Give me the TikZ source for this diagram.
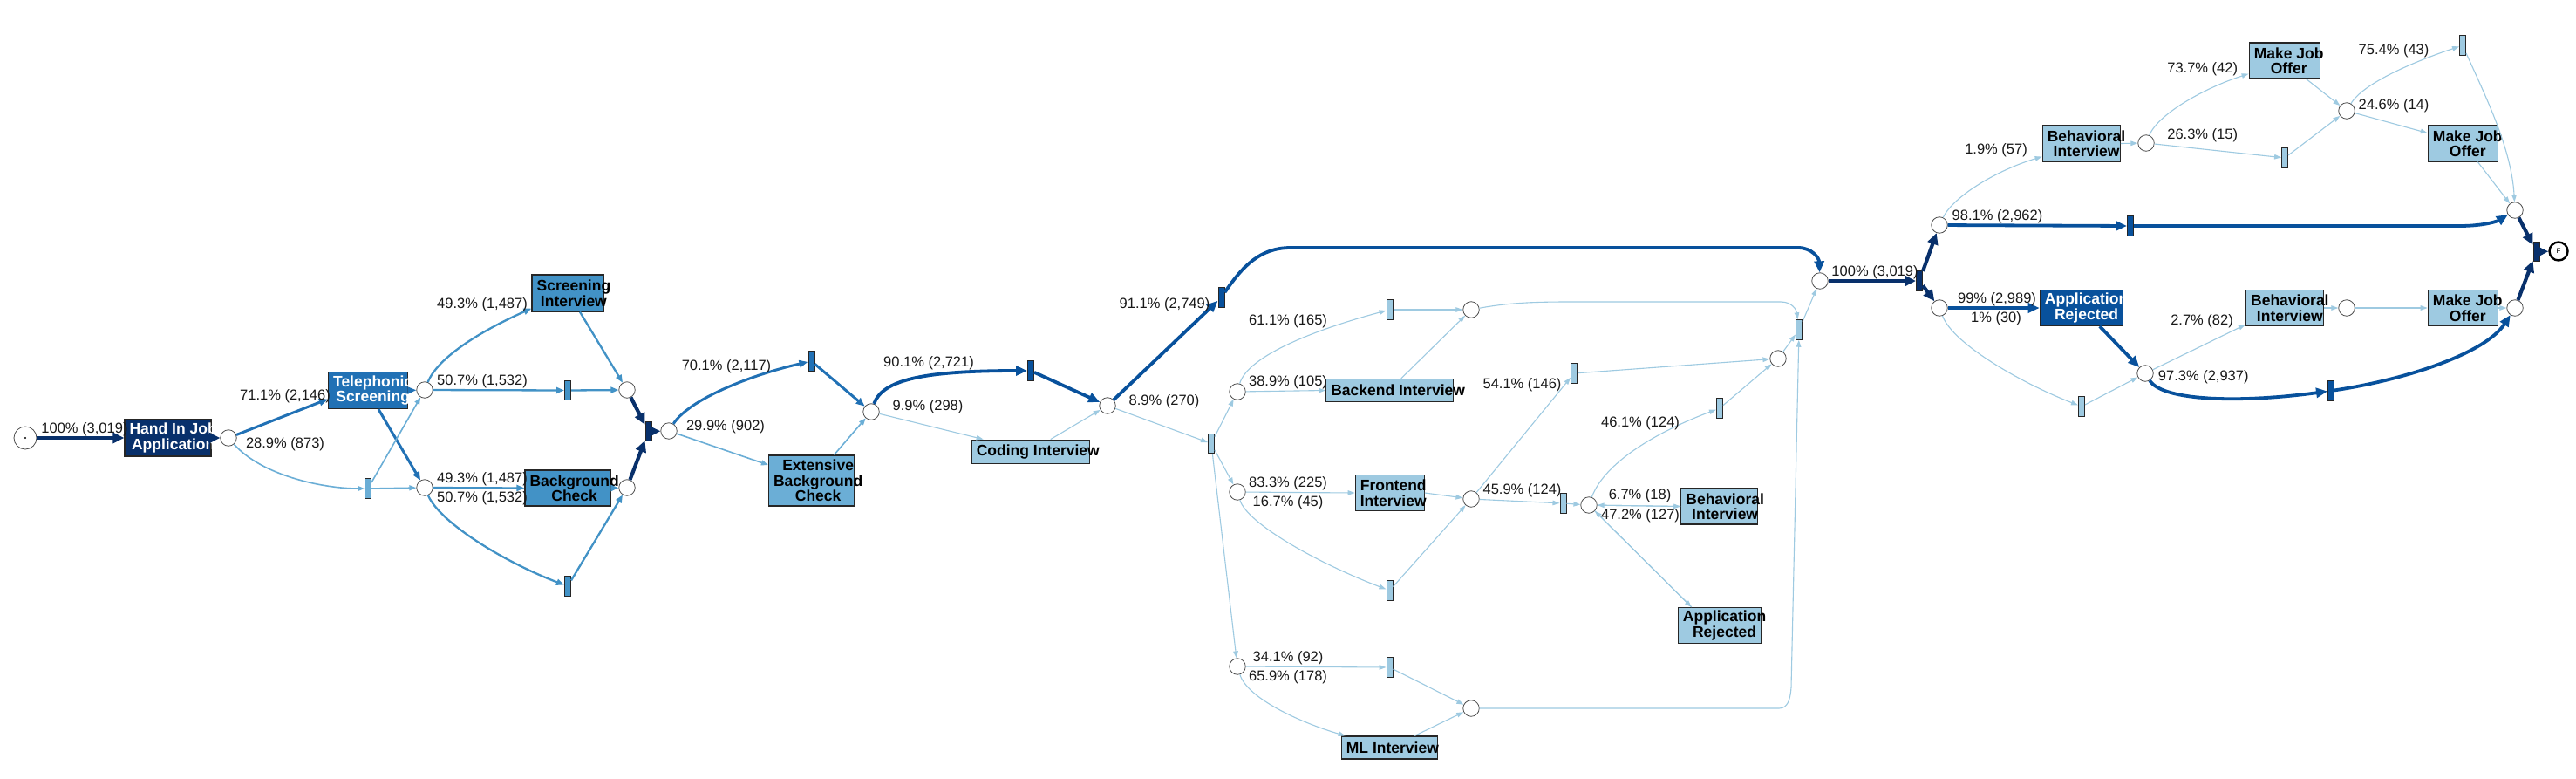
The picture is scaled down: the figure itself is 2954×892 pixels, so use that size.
\documentclass[tikz,border=0pt]{standalone}
\usepackage{fontspec}
\setmainfont{Liberation Sans}
\usetikzlibrary{arrows.meta}
\definecolor{c1}{HTML}{08306B}
\definecolor{c2}{HTML}{08519C}
\definecolor{c3}{HTML}{2171B5}
\definecolor{c4}{HTML}{4292C6}
\definecolor{c5}{HTML}{6BAED6}
\definecolor{c6}{HTML}{9ECAE1}
\begin{document}
\begin{tikzpicture}[x=1pt,y=-1pt,
 place/.style={circle,draw=black!70,fill=white,line width=0.8pt,minimum size=18.5pt,inner sep=0pt},
 trans/.style={rectangle,draw=black!85,line width=1pt,minimum width=7pt,minimum height=22.5pt,inner sep=0pt},
 box/.style={rectangle,draw=black!85,line width=1.2pt,inner sep=0pt},
 btext/.style={font=\bfseries\fontsize{17.5}{17.5}\selectfont,align=center,inner sep=0pt,anchor=west},
 lab/.style={font=\fontsize{16.5}{18}\selectfont,inner sep=0pt,text=black!90},
 e100/.style={draw=c1,line width=4.2pt,-{Triangle[length=13pt,width=12pt]}},
 e90/.style={draw=c2,line width=3.8pt,-{Triangle[length=13pt,width=11pt]}},
 e70/.style={draw=c3,line width=3pt,-{Triangle[length=10pt,width=8pt]}},
 e50/.style={draw=c4,line width=2.3pt,-{Triangle[length=9pt,width=7pt]}},
 e30/.style={draw=c5,line width=1.6pt,-{Triangle[length=8pt,width=6pt]}},
 e10/.style={draw=c6,line width=1.1pt,-{Triangle[length=8pt,width=5.5pt]}}
]
\useasboundingbox (0,0) rectangle (2954,892);
\fill[white] (0,0) rectangle (2954,892);

% ---------- places ----------
\node[place,minimum size=26pt] (start) at (29,502) {};
\fill[black] (start.center) circle[radius=1.1pt];
\node[place] (p1) at (262,502) {};
\node[place] (p2) at (487,447) {};
\node[place] (p3) at (487,559) {};
\node[place] (p4) at (719,447) {};
\node[place] (p5) at (719,559) {};
\node[place] (p6) at (767,494) {};
\node[place] (p7) at (999,472) {};
\node[place] (p8) at (1270,465) {};
\node[place] (p9) at (1419,449) {};
\node[place] (p10) at (1687,355) {};
\node[place] (p11) at (1419,564) {};
\node[place] (p12) at (1687,572) {};
\node[place] (p13) at (1419,764) {};
\node[place] (p14) at (1687,812) {};
\node[place] (p15) at (2039,411) {};
\node[place] (p16) at (1822,579) {};
\node[place] (pm) at (2087,322) {};
\node[place] (p17) at (2224,258) {};
\node[place] (p18) at (2461,164) {};
\node[place] (p19) at (2224,353) {};
\node[place] (p20) at (2460,428) {};
\node[place] (p21) at (2691,353) {};
\node[place] (p22) at (2884,353) {};
\node[place] (p23) at (2691,127) {};
\node[place] (p24) at (2884,241) {};
\node[place,minimum size=21pt,line width=2.4pt,draw=black,font=\fontsize{8}{8}\selectfont] (F) at (2934,288) {F};

% ---------- transitions ----------
\node[trans,fill=c5] (t1) at (422,560) {};
\node[trans,fill=c4] (t2) at (651,447.5) {};
\node[trans,fill=c4] (t3) at (651,672) {};
\node[trans,fill=c1] (t4) at (743.5,494.5) {};
\node[trans,fill=c3] (t5) at (930.5,414) {};
\node[trans,fill=c2] (t6) at (1182,425) {};
\node[trans,fill=c2] (t7) at (1400.5,341) {};
\node[trans,fill=c6] (t8) at (1389,508.5) {};
\node[trans,fill=c6] (t9) at (1593.5,355) {};
\node[trans,fill=c6] (t10) at (1593.5,677) {};
\node[trans,fill=c6] (t11) at (1792.5,577) {};
\node[trans,fill=c6] (t12) at (1593.5,765) {};
\node[trans,fill=c6] (t13) at (1805,428) {};
\node[trans,fill=c6] (t14) at (1972,468) {};
\node[trans,fill=c6] (tj) at (2063,378) {};
\node[trans,fill=c1] (ts) at (2201,322) {};
\node[trans,fill=c2] (t15) at (2443,259) {};
\node[trans,fill=c6] (t16) at (2387,466) {};
\node[trans,fill=c2] (t17) at (2673,448) {};
\node[trans,fill=c6] (t18) at (2620,181) {};
\node[trans,fill=c6] (t19) at (2824,52) {};
\node[trans,fill=c1] (te) at (2908.5,288.5) {};

% ---------- activity boxes ----------
\node[box,fill=c1,minimum width=99pt,minimum height=42pt] (hand) at (192.5,502) {};
\node[btext,text=white] (handT) at ([xshift=6pt]hand.west) {Hand In Job\\Application};
\node[box,fill=c3,minimum width=91pt,minimum height=42pt] (tel) at (422,447.5) {};
\node[btext,text=white] (telT) at ([xshift=6pt]tel.west) {Telephonic\\Screening};
\node[box,fill=c4,minimum width=82pt,minimum height=42pt] (si) at (651,336) {};
\node[btext] (siT) at ([xshift=6pt]si.west) {Screening\\Interview};
\node[box,fill=c4,minimum width=98pt,minimum height=41pt] (bc) at (651,559.5) {};
\node[btext] (bcT) at ([xshift=6pt]bc.west) {Background\\Check};
\node[box,fill=c5,minimum width=98pt,minimum height=58pt] (ebc) at (930.5,551) {};
\node[btext] (ebcT) at ([xshift=6pt]ebc.west) {Extensive\\Background\\Check};
\node[box,fill=c6,minimum width=135pt,minimum height=27pt] (ci) at (1181.7,517.7) {};
\node[btext] (ciT) at ([xshift=6pt]ci.west) {Coding Interview};
\node[box,fill=c6,minimum width=146pt,minimum height=26pt] (be) at (1593.7,447.5) {};
\node[btext] (beT) at ([xshift=6pt]be.west) {Backend Interview};
\node[box,fill=c6,minimum width=79pt,minimum height=41pt] (fe) at (1593.7,565) {};
\node[btext] (feT) at ([xshift=6pt]fe.west) {Frontend\\Interview};
\node[box,fill=c6,minimum width=110pt,minimum height=26pt] (ml) at (1593.3,857) {};
\node[btext] (mlT) at ([xshift=6pt]ml.west) {ML Interview};
\node[box,fill=c6,minimum width=88pt,minimum height=41pt] (bim) at (1971.8,580.5) {};
\node[btext] (bimT) at ([xshift=6pt]bim.west) {Behavioral\\Interview};
\node[box,fill=c6,minimum width=95pt,minimum height=41pt] (arm) at (1971.8,717) {};
\node[btext] (armT) at ([xshift=6pt]arm.west) {Application\\Rejected};
\node[box,fill=c6,minimum width=89pt,minimum height=41pt] (bit) at (2386.7,164.5) {};
\node[btext] (bitT) at ([xshift=6pt]bit.west) {Behavioral\\Interview};
\node[box,fill=c2,minimum width=95pt,minimum height=41pt] (arr) at (2386.8,353) {};
\node[btext,text=white] (arrT) at ([xshift=6pt]arr.west) {Application\\Rejected};
\node[box,fill=c6,minimum width=89pt,minimum height=41pt] (bil) at (2620,353) {};
\node[btext] (bilT) at ([xshift=6pt]bil.west) {Behavioral\\Interview};
\node[box,fill=c6,minimum width=81pt,minimum height=41pt] (mjt) at (2619.7,69.5) {};
\node[btext] (mjtT) at ([xshift=6pt]mjt.west) {Make Job\\Offer};
\node[box,fill=c6,minimum width=80pt,minimum height=41pt] (mjm) at (2824.3,164.5) {};
\node[btext] (mjmT) at ([xshift=6pt]mjm.west) {Make Job\\Offer};
\node[box,fill=c6,minimum width=80pt,minimum height=41pt] (mjl) at (2824.3,353) {};
\node[btext] (mjlT) at ([xshift=6pt]mjl.west) {Make Job\\Offer};

% ---------- arcs: left part ----------
\draw[e100] (start) -- (hand);
\draw[e100] (hand) -- (p1);
\draw[e70] (p1) -- ([yshift=-10pt]tel.west);
\draw[e30] (p1) .. controls (300,545) and (370,560) .. (t1);
\draw[e70] (tel.east) -- (p2);
\draw[e70] ([xshift=12pt]tel.south) -- (p3);
\draw[e30] (t1) -- (p2);
\draw[e30] (t1) -- (p3);
\draw[e50] (p2) .. controls (502,410) and (550,380) .. ([yshift=4pt]si.south west);
\draw[e50] (p2) -- (t2);
\draw[e50] (p3) -- (bc.west);
\draw[e50] (p3) .. controls (505,600) and (580,645) .. (t3);
\draw[e50] ([xshift=14pt]si.south) -- (p4);
\draw[e50] (t2) -- (p4);
\draw[e50] (bc.east) -- (p5);
\draw[e50] (t3) -- (p5);
\draw[e100] (p4) -- (t4);
\draw[e100] (p5) -- (t4);
\draw[e100] (t4) -- (p6);
\draw[e70] (p6) .. controls (790,458) and (860,430) .. (t5);
\draw[e30] (p6) -- ([yshift=18pt]ebc.west);
\draw[e70] (t5) -- (p7);
\draw[e30] ([xshift=26pt]ebc.north) -- (p7);
\draw[e90] (p7) .. controls (1012,435) and (1060,425) .. (t6);
\draw[e10] (p7) -- ([xshift=14pt]ci.north west);
\draw[e90] (t6) -- (p8);
\draw[e10] ([xshift=23pt]ci.north) -- (p8);

% ---------- arcs: middle part ----------
\draw[e90] (p8) -- (t7);
\draw[e90] (t7) .. controls (1425,305) and (1445,284) .. (1480,284) -- (2062,284) .. controls (2078,284) and (2086,296) .. (pm);
\draw[e10] (p8) -- (t8);
\draw[e10] (t8) -- (p9);
\draw[e10] (t8) -- (p11);
\draw[e10] (t8) -- (p13);
\draw[e10] (p9) .. controls (1430,410) and (1500,380) .. (t9);
\draw[e10] (p9) -- (be.west);
\draw[e10] (t9) -- (p10);
\draw[e10] ([xshift=13pt]be.north) -- (p10);
\draw[e10] (p11) -- (fe.west);
\draw[e10] (p11) .. controls (1430,600) and (1510,645) .. (t10);
\draw[e10] (fe.east) -- (p12);
\draw[e10] (t10) -- (p12);
\draw[e10] (p13) -- (t12);
\draw[e10] (p13) .. controls (1430,800) and (1490,828) .. ([xshift=5pt]ml.north west);
\draw[e10] (t12) -- (p14);
\draw[e10] ([xshift=29pt]ml.north) -- (p14);
\draw[e10] (p12) -- (t13);
\draw[e10] (p12) -- (t11);
\draw[e10] (p10) .. controls (1730,347) and (1760,346) .. (1800,346) -- (2042,346) .. controls (2055,346) and (2060,355) .. (tj);
\draw[e10] (t13) -- (p15);
\draw[e10] (t11) -- (p16);
\draw[e10] (p16) .. controls (1840,530) and (1900,495) .. (t14);
\draw[e10] (p16) -- (bim.west);
\draw[e10] (bim.west) -- (p16);
\draw[e10] (p16) -- ([xshift=16pt]arm.north west);
\draw[e10] ([xshift=16pt]arm.north west) -- (p16);
\draw[e10] (t14) -- (p15);
\draw[e10] (p15) -- (tj);
\draw[e10] (p14) -- (2040,812) .. controls (2050,812) and (2053,802) .. (2054,788) -- (tj);
\draw[e10] (tj) -- (pm);

% ---------- arcs: right part ----------
\draw[e100] (pm) -- (ts);
\draw[e100] (ts) -- (p17);
\draw[e100] (ts) -- (p19);
\draw[e10] (p17) .. controls (2240,225) and (2290,195) .. ([yshift=6pt]bit.south west);
\draw[e90] (p17) -- (t15);
\draw[e90] (t15) -- (2820,259) .. controls (2850,259) and (2865,253) .. (p24);
\draw[e10] (bit.east) -- (p18);
\draw[e10] (p18) .. controls (2475,130) and (2530,100) .. ([yshift=6pt]mjt.south west);
\draw[e10] (p18) -- (t18);
\draw[e10] ([xshift=25pt]mjt.south) -- (p23);
\draw[e10] (t18) -- (p23);
\draw[e10] (p23) .. controls (2710,95) and (2770,70) .. (t19);
\draw[e10] (p23) -- ([yshift=12pt]mjm.west);
\draw[e10] (t19) .. controls (2850,110) and (2880,170) .. (p24);
\draw[e10] ([xshift=17pt]mjm.south) -- (p24);
\draw[e100] (p24) -- (te);
\draw[e100] (te) -- (F);
\draw[e90] (p19) -- (arr.west);
\draw[e10] (p19) .. controls (2240,395) and (2320,440) .. (t16);
\draw[e90] ([xshift=21pt]arr.south) -- (p20);
\draw[e10] (t16) -- (p20);
\draw[e10] (p20) -- ([yshift=2pt]bil.south west);
\draw[e90] (p20) .. controls (2480,460) and (2570,462) .. (t17);
\draw[e90] (t17) .. controls (2760,435) and (2850,405) .. (p22);
\draw[e10] (bil.east) -- (p21);
\draw[e10] (p21) -- (mjl.west);
\draw[e10] (mjl.east) -- (p22);
\draw[e100] (p22) -- (te);

% ---------- labels ----------
\node[lab] (l1) at (97,492) {100\% (3,019)};
\node[lab] (l2) at (327,454) {71.1\% (2,146)};
\node[lab] (l3) at (327,509) {28.9\% (873)};
\node[lab] (l4) at (553,349) {49.3\% (1,487)};
\node[lab] (l5) at (553,437) {50.7\% (1,532)};
\node[lab] (l6) at (553,549) {49.3\% (1,487)};
\node[lab] (l7) at (553,571) {50.7\% (1,532)};
\node[lab] (l8) at (833,420) {70.1\% (2,117)};
\node[lab] (l9) at (832,489) {29.9\% (902)};
\node[lab] (l10) at (1065,416) {90.1\% (2,721)};
\node[lab] (l11) at (1064,466) {9.9\% (298)};
\node[lab] (l12) at (1335.5,349) {91.1\% (2,749)};
\node[lab] (l13) at (1335,460) {8.9\% (270)};
\node[lab] (l14) at (1477,368) {61.1\% (165)};
\node[lab] (l15) at (1477,438) {38.9\% (105)};
\node[lab] (l16) at (1477,554) {83.3\% (225)};
\node[lab] (l17) at (1477,576) {16.7\% (45)};
\node[lab] (l18) at (1477,754) {34.1\% (92)};
\node[lab] (l19) at (1477,776) {65.9\% (178)};
\node[lab] (l20) at (1745.5,441) {54.1\% (146)};
\node[lab] (l21) at (1745.5,562) {45.9\% (124)};
\node[lab] (l22) at (1881,485) {46.1\% (124)};
\node[lab] (l23) at (1880.5,568) {6.7\% (18)};
\node[lab] (l24) at (1881,591) {47.2\% (127)};
\node[lab] (l25) at (2150,312) {100\% (3,019)};
\node[lab] (l26) at (2290.5,248) {98.1\% (2,962)};
\node[lab] (l27) at (2289,172) {1.9\% (57)};
\node[lab] (l28) at (2290,343) {99\% (2,989)};
\node[lab] (l29) at (2289,365) {1\% (30)};
\node[lab] (l30) at (2525,368) {2.7\% (82)};
\node[lab] (l31) at (2526.7,432) {97.3\% (2,937)};
\node[lab] (l32) at (2525.7,79) {73.7\% (42)};
\node[lab] (l33) at (2525.7,155) {26.3\% (15)};
\node[lab] (l34) at (2745,58) {75.4\% (43)};
\node[lab] (l35) at (2745,121) {24.6\% (14)};
\end{tikzpicture}
\end{document}
